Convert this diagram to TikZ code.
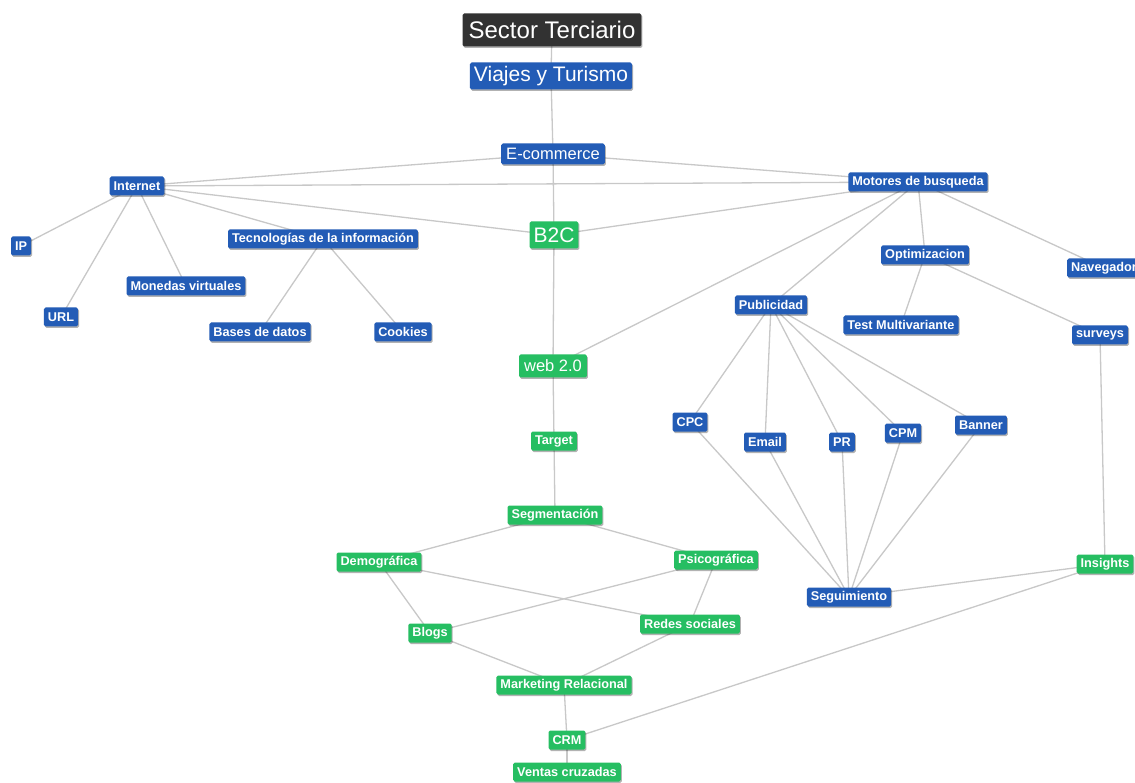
\documentclass[tikz,border=0pt]{standalone}
\usepackage{fontspec}
\setmainfont{Liberation Sans}
\usetikzlibrary{backgrounds,shadows}

\definecolor{nodeblue}{RGB}{35,92,182}
\definecolor{nodegreen}{RGB}{38,190,98}
\definecolor{nodedark}{RGB}{50,50,50}
\definecolor{linkgray}{RGB}{200,200,200}

\tikzset{
  box/.style={rounded corners=1.6pt, text=white, inner xsep=4pt, inner ysep=0pt,
    minimum height=19pt, font=\bfseries\fontsize{12.7}{14}\selectfont,
    drop shadow={shadow xshift=1pt, shadow yshift=-1.5pt, opacity=0.3, fill=black}},
  bl/.style={box, fill=nodeblue},
  gr/.style={box, fill=nodegreen},
  big/.style={font=\fontsize{21}{23}\selectfont, minimum height=27pt, inner xsep=4pt},
  mid/.style={font=\fontsize{16.5}{18}\selectfont, minimum height=21pt, inner xsep=5pt},
  link/.style={draw=linkgray, line width=1.3pt},
}

\begin{document}
\begin{tikzpicture}[x=1pt, y=-1pt]
\useasboundingbox (0,0) rectangle (1135,783);

% top of the hierarchy
\node[box, fill=nodedark, font=\fontsize{24}{26}\selectfont, minimum height=33pt, inner xsep=6pt] (st) at (552,30) {Sector Terciario};
\node[bl, big] (vt) at (551,76) {Viajes y Turismo};
\node[bl, mid] (ec) at (553,154) {E-commerce};
\node[gr, big] (b2c) at (554,235) {B2C};

% Internet branch
\node[bl] (inet) at (137,186) {Internet};
\node[bl] (ip) at (21,246) {IP};
\node[bl] (url) at (61,317) {URL};
\node[bl] (mon) at (186,286) {Monedas virtuales};
\node[bl] (tic) at (323,239) {Tecnologías de la información};
\node[bl] (bd) at (260,332) {Bases de datos};
\node[bl] (ck) at (403,332) {Cookies};

% search engines branch
\node[bl] (mot) at (918,182) {Motores de busqueda};
\node[bl] (opt) at (925,255) {Optimizacion};
\node[bl, anchor=west] (nav) at (1067,268) {Navegador\hspace{6pt}};
\node[bl] (tmv) at (901,325) {Test Multivariante};
\node[bl] (sv) at (1100,335) {surveys};
\node[bl] (pub) at (771,305) {Publicidad};
\node[bl] (cpc) at (690,422) {CPC};
\node[bl] (em) at (765,442) {Email};
\node[bl] (pr) at (842,442) {PR};
\node[bl] (cpm) at (903,433) {CPM};
\node[bl] (ban) at (981,425) {Banner};
\node[bl] (seg) at (849,597) {Seguimiento};
\node[gr] (ins) at (1105,564) {Insights};

% web 2.0 branch
\node[gr, mid, minimum height=23pt] (w2) at (553,366) {web 2.0};
\node[gr] (tg) at (554,441) {Target};
\node[gr] (sgm) at (555,515) {Segmentación};
\node[gr] (dem) at (379,562) {Demográfica};
\node[gr] (psi) at (716,560) {Psicográfica};
\node[gr] (blg) at (430,633) {Blogs};
\node[gr] (rs) at (690,624) {Redes sociales};
\node[gr] (mr) at (564,685) {Marketing Relacional};
\node[gr] (crm) at (567,740) {CRM};
\node[gr] (vc) at (567,772) {Ventas cruzadas};

% white page and connectors, kept behind the boxes
\begin{scope}[on background layer]
  \fill[white] (0,0) rectangle (1135,783);
  \foreach \a/\b in {st/vt, vt/ec, ec/inet, ec/mot, ec/b2c, inet/mot, inet/b2c,
      inet/ip, inet/url, inet/mon, inet/tic, tic/bd, tic/ck,
      mot/b2c, mot/w2, mot/pub, mot/opt, mot/nav, opt/tmv, opt/sv, sv/ins,
      b2c/w2, w2/tg, tg/sgm,
      pub/cpc, pub/em, pub/pr, pub/cpm, pub/ban,
      cpc/seg, em/seg, pr/seg, cpm/seg, ban/seg, seg/ins, ins/crm,
      sgm/dem, sgm/psi, dem/blg, dem/rs, psi/blg, psi/rs,
      blg/mr, rs/mr, mr/crm, crm/vc}
    \draw[link] (\a.center) -- (\b.center);
\end{scope}
\end{tikzpicture}
\end{document}
